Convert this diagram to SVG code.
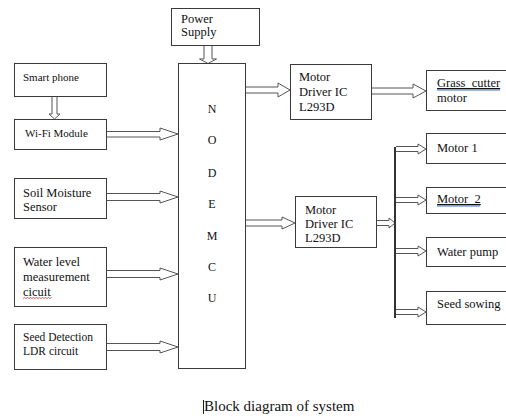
<svg xmlns="http://www.w3.org/2000/svg" width="506" height="417" viewBox="0 0 506 417">
<style>
.box{fill:#fff;stroke:#3a3a3a;stroke-width:1}
.t{font-family:"Liberation Serif","Times New Roman",serif;font-size:12.5px;fill:#111}
.s{font-size:11px}
.m{font-size:11.5px}
.n{font-size:12px}
.cap{font-size:15px}
.arr{fill:#fff;stroke:#555;stroke-width:1;stroke-linejoin:miter}
.bus{stroke:#333;stroke-width:2;fill:none}
.ul{stroke:#4472c4;stroke-width:1}
</style>
<rect width="506" height="417" fill="#fff"/>
<g id="connectors">
<path class="arr" d="M204,45 V59 H199.5 L208,63.5 L216.5,59 H212 V45"/>
<path class="arr" d="M52,96 V114 H49 L54.5,119 L60,114 H57 V96"/>
<path class="arr" d="M107,131.5 H160 V128 L178,134 L160,140 V137 H107"/>
<path class="arr" d="M107,193.5 H160 V191 L178,197 L160,203 V200.5 H107"/>
<path class="arr" d="M107,270.5 H160 V268 L178,274 L160,280 V277.5 H107"/>
<path class="arr" d="M107,343.5 H160 V341 L178,347 L160,353 V350.5 H107"/>
<path class="arr" d="M246,87 H278 V83 L290,90 L278,97 V93 H246"/>
<path class="arr" d="M372,88 H413 V84 L426,91 L413,98 V94 H372"/>
<path class="arr" d="M246,220 H282 V217 L295,223 L282,229 V226 H246"/>
<path class="arr" d="M376,220.5 H389 V218 L395,223 L389,228 V225.5 H376"/>
<line class="bus" x1="395" y1="147" x2="395" y2="318"/>
<path class="arr" d="M396,146.5 H418 V144 L426,149 L418,154 V151.5 H396"/>
<path class="arr" d="M396,197.5 H418 V195 L426,200 L418,205 V202.5 H396"/>
<path class="arr" d="M396,248.5 H418 V246 L426,251 L418,256 V253.5 H396"/>
<path class="arr" d="M396,309.5 H418 V307 L426,312 L418,317 V314.5 H396"/>
</g>
<g id="power">
<rect class="box" x="171.5" y="8.5" width="88" height="37"/>
<text class="t" x="181" y="23">Power</text>
<text class="t" x="181" y="36">Supply</text>
</g>
<g id="nodemcu">
<rect class="box" x="178.5" y="63.5" width="67" height="305"/>
<g text-anchor="middle">
<text class="t n" x="212" y="113">N</text>
<text class="t n" x="212" y="144">O</text>
<text class="t n" x="212" y="177">D</text>
<text class="t n" x="212" y="208">E</text>
<text class="t n" x="212" y="240">M</text>
<text class="t n" x="212" y="271">C</text>
<text class="t n" x="212" y="302">U</text>
</g>
</g>
<g id="smartphone">
<rect class="box" x="14.5" y="63.5" width="92" height="33"/>
<text class="t s" x="23" y="81">Smart phone</text>
</g>
<g id="wifi">
<rect class="box" x="14.5" y="119.5" width="92" height="30"/>
<text class="t s" x="25" y="137">Wi-Fi Module</text>
</g>
<g id="soil">
<rect class="box" x="14.5" y="178.5" width="92" height="40"/>
<text class="t" x="23" y="197">Soil Moisture</text>
<text class="t" x="23" y="211">Sensor</text>
</g>
<g id="water">
<rect class="box" x="14.5" y="247.5" width="92" height="59"/>
<text class="t" x="23" y="266">Water level</text>
<text class="t" x="23" y="281">measurement</text>
<text class="t" x="23" y="296">cicuit</text>
<path d="M23,298.5 l1.5,-1 l1.5,1 l1.5,-1 l1.5,1 l1.5,-1 l1.5,1 l1.5,-1 l1.5,1 l1.5,-1 l1.5,1 l1.5,-1 l1.5,1 l1.5,-1 l1.5,1 l1.5,-1 l1.5,1 l1.5,-1 l1.5,1 l1.5,-1" fill="none" stroke="#d03030" stroke-width="0.8"/>
</g>
<g id="seeddetect">
<rect class="box" x="14.5" y="324.5" width="92" height="45"/>
<text class="t m" x="23" y="341">Seed Detection</text>
<text class="t m" x="23" y="355">LDR circuit</text>
</g>
<g id="driver1">
<rect class="box" x="290.5" y="64.5" width="81" height="55"/>
<text class="t" x="299" y="81">Motor</text>
<text class="t" x="299" y="96">Driver IC</text>
<text class="t" x="299" y="111">L293D</text>
</g>
<g id="grass">
<rect class="box" x="426.5" y="70.5" width="90" height="40"/>
<text class="t" x="437" y="87" text-decoration="underline" xml:space="preserve">Grass  cutter</text>
<line class="ul" x1="437" y1="90" x2="500" y2="90"/>
<text class="t" x="437" y="102">motor</text>
</g>
<g id="driver2">
<rect class="box" x="295.5" y="196.5" width="81" height="51"/>
<text class="t" x="305" y="214">Motor</text>
<text class="t" x="305" y="228">Driver IC</text>
<text class="t" x="305" y="242">L293D</text>
</g>
<g id="motor1">
<rect class="box" x="426.5" y="133.5" width="90" height="30"/>
<text class="t" x="437" y="152">Motor 1</text>
</g>
<g id="motor2">
<rect class="box" x="426.5" y="187.5" width="90" height="26"/>
<text class="t" x="437" y="203" text-decoration="underline" xml:space="preserve">Motor  2</text>
<line class="ul" x1="437" y1="206" x2="480" y2="206"/>
</g>
<g id="waterpump">
<rect class="box" x="426.5" y="237.5" width="90" height="29"/>
<text class="t" x="437" y="256">Water pump</text>
</g>
<g id="seedsowing">
<rect class="box" x="426.5" y="291.5" width="90" height="33"/>
<text class="t" x="437" y="308">Seed sowing</text>
</g>
<g id="caption">
<line x1="203.5" y1="400" x2="203.5" y2="414" stroke="#222" stroke-width="1"/>
<text class="t cap" x="204" y="411">Block diagram of system</text>
</g>
</svg>
